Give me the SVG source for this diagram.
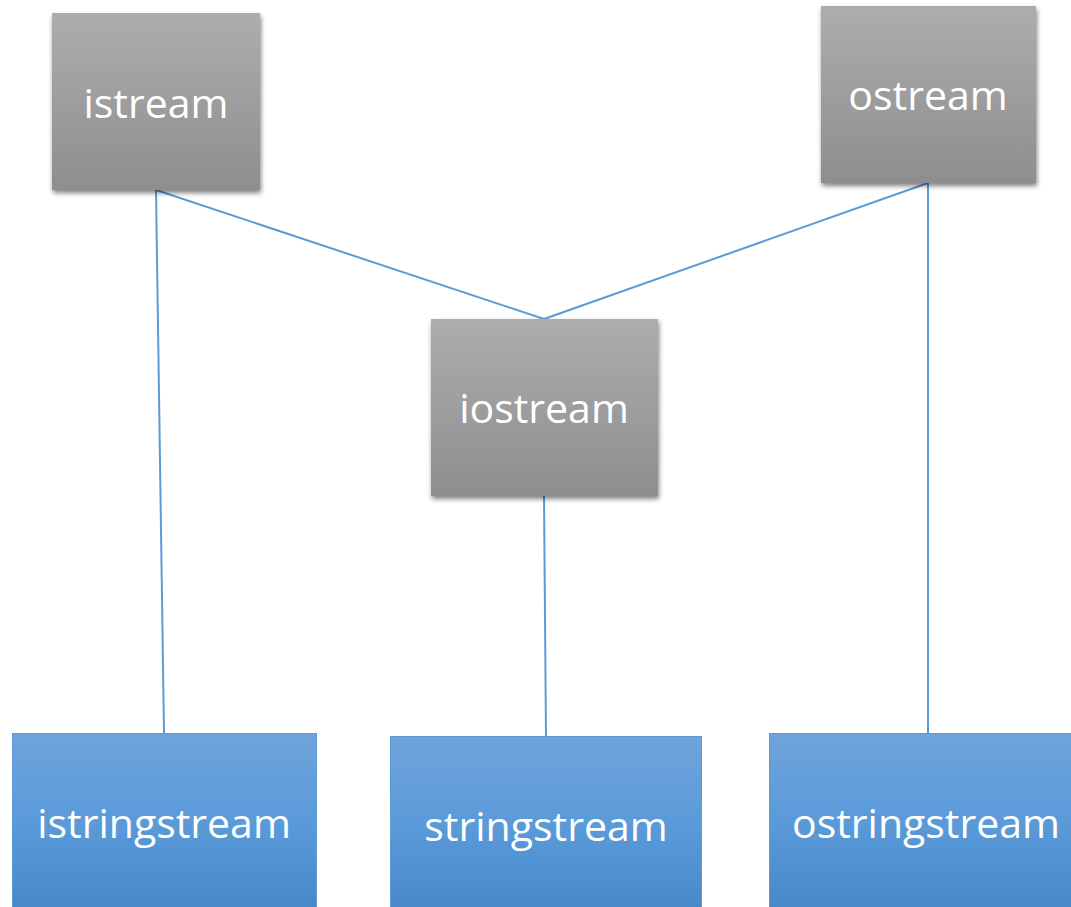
<svg xmlns="http://www.w3.org/2000/svg" width="1071" height="907" viewBox="0 0 1071 907">
<defs>
<linearGradient id="gray" x1="0" y1="0" x2="0" y2="1">
<stop offset="0" stop-color="#adadad"/>
<stop offset="1" stop-color="#8e8e8e"/>
</linearGradient>
<linearGradient id="blue" x1="0" y1="0" x2="0" y2="1">
<stop offset="0" stop-color="#6fa4db"/>
<stop offset="0.5" stop-color="#5a9ad9"/>
<stop offset="1" stop-color="#4587c8"/>
</linearGradient>
<filter id="sh" x="-10%" y="-10%" width="125%" height="125%">
<feGaussianBlur in="SourceAlpha" stdDeviation="2.5"/>
<feOffset dx="1" dy="3" result="b"/>
<feComponentTransfer><feFuncA type="linear" slope="0.5"/></feComponentTransfer>
<feMerge><feMergeNode/><feMergeNode in="SourceGraphic"/></feMerge>
</filter>
</defs>
<style>
.g{fill:url(#gray);filter:url(#sh)}
.b{fill:url(#blue);stroke:#5b9bd5;stroke-width:1}
.t{font-family:"Open Sans","Noto Sans",sans-serif;font-size:41px;fill:#ffffff;text-anchor:middle}
.c{stroke:#5b9bd5;stroke-width:2;fill:none}
</style>
<g id="connectors">
<line class="c" x1="156" y1="190" x2="164" y2="733"/>
<line class="c" x1="156" y1="190" x2="544" y2="319"/>
<line class="c" x1="928" y1="183" x2="544" y2="319"/>
<line class="c" x1="928" y1="183" x2="928" y2="733"/>
<line class="c" x1="544" y1="496" x2="546" y2="736"/>
</g>
<g id="istream">
<rect class="g" x="52" y="13" width="208" height="177"/>
<text class="t" x="156" y="118">istream</text>
</g>
<g id="ostream">
<rect class="g" x="821" y="6" width="215" height="177"/>
<text class="t" x="928" y="110">ostream</text>
</g>
<g id="iostream">
<rect class="g" x="431" y="319" width="227" height="177"/>
<text class="t" x="544" y="423">iostream</text>
</g>
<g id="istringstream">
<rect class="b" x="12.5" y="733.5" width="304" height="180"/>
<text class="t" x="164" y="838">istringstream</text>
</g>
<g id="stringstream">
<rect class="b" x="390.5" y="736.5" width="311" height="180"/>
<text class="t" x="546" y="841">stringstream</text>
</g>
<g id="ostringstream">
<rect class="b" x="769.5" y="733.5" width="310" height="180"/>
<text class="t" x="926" y="838">ostringstream</text>
</g>
</svg>
